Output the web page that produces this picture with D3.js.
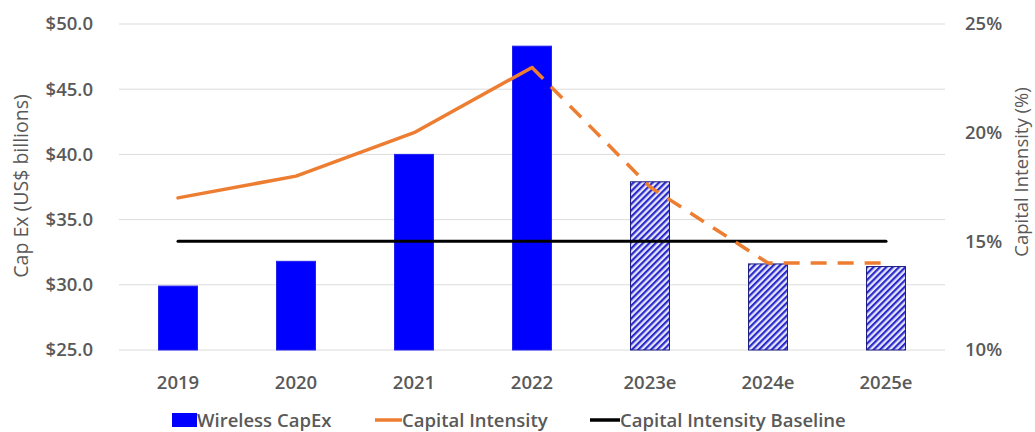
<!DOCTYPE html>
<html>
<head>
<meta charset="utf-8">
<script src="https://cdn.jsdelivr.net/npm/d3@7"></script>
<style>
  body { margin: 0; background: #fff; }
  svg text { font-family: "Open Sans", "DejaVu Sans", sans-serif; }
</style>
</head>
<body>
<div id="chart"></div>
<script>
const years = ["2019", "2020", "2021", "2022", "2023e", "2024e", "2025e"];
const capex = [29.9, 31.8, 40.0, 48.3, 37.9, 31.6, 31.4];
const estimated = [false, false, false, false, true, true, true];
const intensity = [17.0, 18.0, 20.0, 23.0, 17.5, 14.0, 14.0];
const baseline = 15;
const leftTicks = [25, 30, 35, 40, 45, 50];
const rightTicks = [10, 15, 20, 25];

const width = 1035, height = 432;
const plot = { left: 119, right: 945, top: 24, bottom: 350 };
const labelSize = "18.5px";

const svg = d3.select("#chart").append("svg")
  .attr("width", width)
  .attr("height", height);

// hatch for estimated years
const defs = svg.append("defs");
const pat = defs.append("pattern")
  .attr("id", "hatch")
  .attr("patternUnits", "userSpaceOnUse")
  .attr("width", 4.5)
  .attr("height", 4.5)
  .attr("patternTransform", "rotate(45)");
pat.append("rect").attr("width", 4.5).attr("height", 4.5).attr("fill", "#e6e6f6");
pat.append("rect").attr("width", 2.2).attr("height", 4.5).attr("fill", "#2a2acc");

const x = d3.scaleBand()
  .domain(years)
  .range([plot.left, plot.right])
  .paddingInner(0.67)
  .paddingOuter(0.335);
const yL = d3.scaleLinear().domain([25, 50]).range([plot.bottom, plot.top]);
const yR = d3.scaleLinear().domain([10, 25]).range([plot.bottom, plot.top]);
const cx = d => x(d) + x.bandwidth() / 2;

// gridlines
svg.append("g")
  .selectAll("line")
  .data(leftTicks)
  .join("line")
  .attr("x1", plot.left)
  .attr("x2", plot.right)
  .attr("y1", d => yL(d))
  .attr("y2", d => yL(d))
  .attr("stroke", "#dcdcdc")
  .attr("stroke-width", 1);

function styleTicks(g) {
  g.select(".domain").remove();
  g.selectAll("text")
    .attr("fill", "#595959")
    .style("font-size", labelSize)
    .style("font-weight", "600");
}

// left axis
svg.append("g")
  .attr("transform", `translate(${plot.left},0)`)
  .call(d3.axisLeft(yL).tickValues(leftTicks).tickSize(0).tickPadding(26)
    .tickFormat(d => "$" + d.toFixed(1)))
  .call(styleTicks);

// right axis
svg.append("g")
  .attr("transform", `translate(${plot.right},0)`)
  .call(d3.axisRight(yR).tickValues(rightTicks).tickSize(0).tickPadding(20)
    .tickFormat(d => d + "%"))
  .call(styleTicks);

// x axis
svg.append("g")
  .attr("transform", `translate(0,${plot.bottom})`)
  .call(d3.axisBottom(x).tickSize(0).tickPadding(26))
  .call(styleTicks);

// axis titles
svg.append("text")
  .attr("transform", `translate(28,186) rotate(-90)`)
  .attr("text-anchor", "middle")
  .attr("fill", "#595959")
  .style("font-size", "19.5px")
  .text("Cap Ex (US$ billions)");
svg.append("text")
  .attr("transform", `translate(1028,172) rotate(-90)`)
  .attr("text-anchor", "middle")
  .attr("fill", "#595959")
  .style("font-size", "18.5px")
  .text("Capital Intensity (%)");

// bars
svg.append("g")
  .selectAll("rect")
  .data(years)
  .join("rect")
  .attr("x", d => x(d))
  .attr("width", x.bandwidth())
  .attr("y", (d, i) => yL(capex[i]))
  .attr("height", (d, i) => yL(25) - yL(capex[i]))
  .attr("fill", (d, i) => estimated[i] ? "url(#hatch)" : "#0000ff")
  .attr("stroke", (d, i) => estimated[i] ? "#1c1c80" : "#2020ee")
  .attr("stroke-width", 1);

// baseline
svg.append("line")
  .attr("x1", cx(years[0]))
  .attr("x2", cx(years[years.length - 1]))
  .attr("y1", yR(baseline))
  .attr("y2", yR(baseline))
  .attr("stroke", "#000")
  .attr("stroke-width", 3)
  .attr("stroke-linecap", "round");

// capital intensity line: actual solid, estimates dashed
const pts = years.map((d, i) => [cx(d), yR(intensity[i])]);
const line = d3.line();
svg.append("path")
  .attr("d", line(pts.slice(0, 4)))
  .attr("fill", "none")
  .attr("stroke", "#ed7d31")
  .attr("stroke-width", 3.5)
  .attr("stroke-linejoin", "round")
  .attr("stroke-linecap", "round");
svg.append("path")
  .attr("d", line(pts.slice(3)))
  .attr("fill", "none")
  .attr("stroke", "#ed7d31")
  .attr("stroke-width", 3.5)
  .attr("stroke-dasharray", "16,11");

// legend
const lg = svg.append("g").attr("transform", "translate(0,420)");
lg.append("rect")
  .attr("x", 172).attr("y", -7).attr("width", 25).attr("height", 14)
  .attr("fill", "#0000ff");
lg.append("line")
  .attr("x1", 375).attr("x2", 402).attr("y1", 0).attr("y2", 0)
  .attr("stroke", "#ed7d31").attr("stroke-width", 3.5);
lg.append("line")
  .attr("x1", 590).attr("x2", 620).attr("y1", 0).attr("y2", 0)
  .attr("stroke", "#000").attr("stroke-width", 3.5);
const legendText = [["Wireless CapEx", 197], ["Capital Intensity", 402], ["Capital Intensity Baseline", 620]];
lg.selectAll("text.lbl")
  .data(legendText)
  .join("text")
  .attr("class", "lbl")
  .attr("x", d => d[1])
  .attr("y", 7)
  .attr("fill", "#595959")
  .style("font-size", labelSize)
  .style("font-weight", "600")
  .text(d => d[0]);
</script>
</body>
</html>
